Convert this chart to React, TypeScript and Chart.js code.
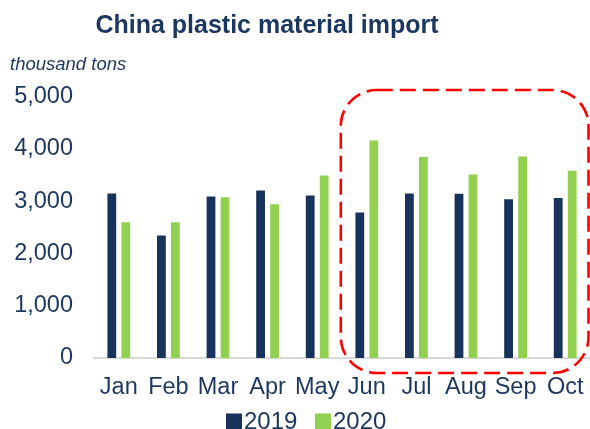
import React, { useEffect, useRef } from "react";
import { Chart, registerables } from "chart.js";

Chart.register(...registerables);

const months = ["Jan", "Feb", "Mar", "Apr", "May", "Jun", "Jul", "Aug", "Sep", "Oct"];
const imports2019 = [3165, 2360, 3105, 3220, 3125, 2800, 3165, 3160, 3055, 3080];
const imports2020 = [2615, 2615, 3095, 2960, 3510, 4180, 3860, 3530, 3870, 3600];
const seriesNames = ["2019", "2020"];
const yTicks = [0, 1000, 2000, 3000, 4000, 5000];
const titleText = "China plastic material import";
const unitText = "thousand tons";

const NAVY = "#17335c";
const GREEN = "#92d050";
const TEXT = "#1b375f";
const FONT = "'Liberation Sans', Arial, sans-serif";

const overlayPlugin = {
  id: "overlay",
  afterDraw(chart: any) {
    const ctx = chart.ctx;
    ctx.save();
    // title
    ctx.fillStyle = TEXT;
    ctx.font = `bold 25px ${FONT}`;
    ctx.textAlign = "center";
    ctx.textBaseline = "alphabetic";
    ctx.fillText(titleText, 267, 33);
    // unit
    ctx.font = `italic 18.5px ${FONT}`;
    ctx.textAlign = "left";
    ctx.fillText(unitText, 10, 70);
    // highlight box around Jun..Oct
    const xs = chart.scales.x;
    const left = xs.getPixelForValue(5) - 26;
    const right = chart.width - 1.5;
    const top = 90;
    const bottom = 373;
    const r = 36;
    ctx.strokeStyle = "#ff0000";
    ctx.lineWidth = 2.6;
    ctx.setLineDash([16, 7]);
    ctx.beginPath();
    ctx.moveTo(left + r, top);
    ctx.lineTo(right - r, top);
    ctx.arcTo(right, top, right, top + r, r);
    ctx.lineTo(right, bottom - r);
    ctx.arcTo(right, bottom, right - r, bottom, r);
    ctx.lineTo(left + r, bottom);
    ctx.arcTo(left, bottom, left, bottom - r, r);
    ctx.lineTo(left, top + r);
    ctx.arcTo(left, top, left + r, top, r);
    ctx.closePath();
    ctx.stroke();
    ctx.setLineDash([]);
    // legend
    const items = chart.data.datasets.map((d: any) => ({ label: d.label, color: d.backgroundColor }));
    ctx.font = `24px ${FONT}`;
    ctx.textBaseline = "alphabetic";
    let x = 226;
    items.forEach((it: any) => {
      ctx.fillStyle = it.color;
      ctx.fillRect(x, 413.5, 16, 16);
      ctx.fillStyle = TEXT;
      ctx.fillText(it.label, x + 18, 429);
      x += 89;
    });
    ctx.restore();
  },
};

export default function App() {
  const ref = useRef<HTMLCanvasElement>(null);
  useEffect(() => {
    document.body.style.margin = "0";
    const chart = new Chart(ref.current!, {
      type: "bar",
      data: {
        labels: months,
        datasets: [
          {
            label: seriesNames[0],
            data: imports2019,
            backgroundColor: NAVY,
            borderColor: "rgba(255,255,255,0.4)",
            borderWidth: 1,
            categoryPercentage: 0.565,
            barPercentage: 0.77,
          },
          {
            label: seriesNames[1],
            data: imports2020,
            backgroundColor: GREEN,
            borderColor: "rgba(255,255,255,0.4)",
            borderWidth: 1,
            categoryPercentage: 0.565,
            barPercentage: 0.77,
          },
        ],
      },
      options: {
        responsive: false,
        animation: false,
        layout: { autoPadding: false, padding: { top: 96.5, bottom: 11, left: 0, right: 0 } },
        plugins: {
          legend: { display: false },
          title: { display: false },
          tooltip: { enabled: false },
        },
        scales: {
          x: {
            grid: { display: false, drawTicks: true, tickLength: 15 },
            border: { display: true, color: "#d9d9d9", width: 2 },
            ticks: { color: TEXT, font: { family: FONT, size: 23.5 }, padding: 0, maxRotation: 0, autoSkip: false },
            afterFit: (s: any) => { s.height = 60; },
          },
          y: {
            min: 0,
            max: 5000,
            afterBuildTicks: (s: any) => { s.ticks = yTicks.map((v) => ({ value: v })); },
            grid: { display: false, drawTicks: false },
            border: { display: false },
            ticks: {
              color: TEXT,
              font: { family: FONT, size: 23.5 },
              padding: 21,
              callback: (v: any) => Number(v).toLocaleString("en-US"),
            },
            afterFit: (s: any) => { s.width = 94; },
          },
        },
      },
      plugins: [overlayPlugin],
    });
    return () => chart.destroy();
  }, []);
  return (
    <div style={{ width: 590, height: 429 }}>
      <canvas ref={ref} width={590} height={429} />
    </div>
  );
}
